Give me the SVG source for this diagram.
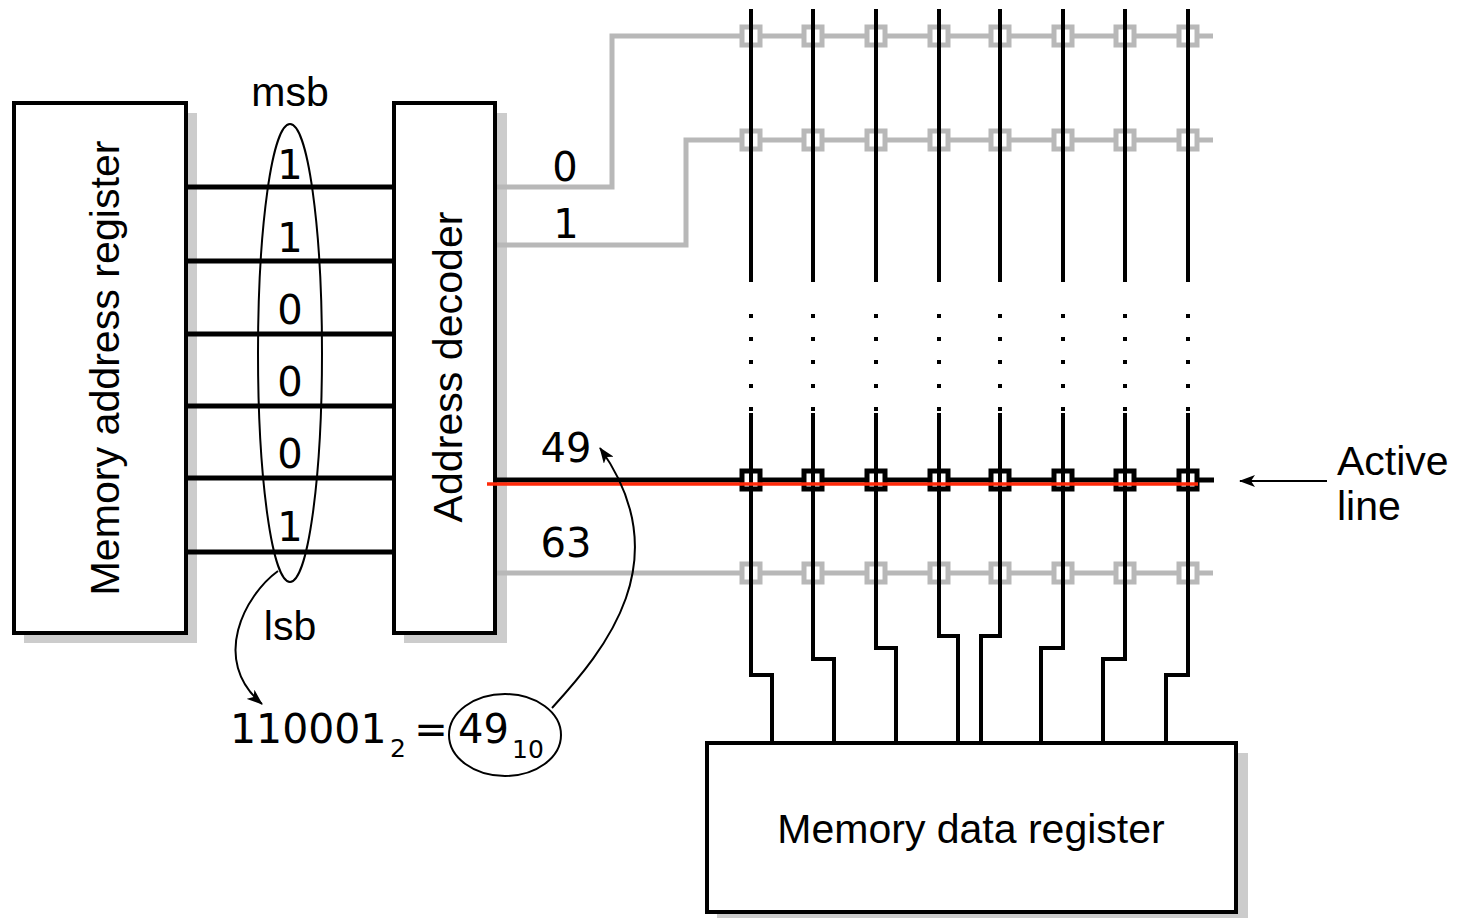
<svg xmlns="http://www.w3.org/2000/svg" width="1460" height="918" viewBox="0 0 1460 918">
<style>
.box{fill:#fff;stroke:#000;stroke-width:4}
.shadow{fill:#cccccc}
.word{font-family:"Liberation Sans",Arial,sans-serif;font-size:41px;fill:#000}
.dig{font-family:"DejaVu Sans","Liberation Sans",sans-serif;font-size:40px;fill:#000}
.sub{font-family:"DejaVu Sans","Liberation Sans",sans-serif;font-size:25px;fill:#000}
.bit{stroke:#000;stroke-width:5;fill:none}
.grey{stroke:#b8b8b8;stroke-width:5;fill:none}
.gsq{fill:#fff;stroke:#b8b8b8;stroke-width:5}
.bsq{fill:#fff;stroke:#000;stroke-width:5}
.col{stroke:#000;stroke-width:4;fill:none}
.thin{stroke:#000;stroke-width:2;fill:none}
.dot{fill:#000}
</style>
<defs>
<marker id="ah" viewBox="0 0 16 12" refX="15" refY="6" markerWidth="16" markerHeight="12" markerUnits="userSpaceOnUse" orient="auto">
<path d="M0,0 L16,6 L0,12 L4,6 z" fill="#000"/>
</marker>
</defs>

<g id="mar">
<rect class="shadow" x="24" y="113" width="173" height="530"/>
<rect class="box" x="14" y="103" width="172" height="530"/>
<text class="word" transform="translate(119,368) rotate(-90)" text-anchor="middle" textLength="455" lengthAdjust="spacingAndGlyphs">Memory address register</text>
</g>

<g id="decoder">
<rect class="shadow" x="404" y="113" width="103" height="530"/>
<rect class="box" x="394" y="103" width="101" height="530"/>
<text class="word" transform="translate(462,367) rotate(-90)" text-anchor="middle" textLength="311" lengthAdjust="spacingAndGlyphs">Address decoder</text>
</g>

<g id="mdr">
<rect class="shadow" x="717" y="753" width="531" height="170"/>
<rect class="box" x="707" y="743" width="529" height="169"/>
<text class="word" x="971" y="843" text-anchor="middle">Memory data register</text>
</g>

<g id="connectors">
<g id="bitlines">
<path class="bit" d="M188,187 H392 M188,261 H392 M188,334 H392 M188,406 H392 M188,478 H392 M188,552 H392"/>
</g>
<g id="wordlines">
<path class="grey" d="M497,187 H612 V36 H1213"/>
<path class="grey" d="M497,245 H686 V140 H1213"/>
<path class="grey" d="M497,573 H1213"/>
<path class="bit" d="M497,480 H1214"/>
</g>
<g id="cells">
<g class="gsq">
<rect x="742" y="27" width="18" height="18"/><rect x="804" y="27" width="18" height="18"/><rect x="867" y="27" width="18" height="18"/><rect x="930" y="27" width="18" height="18"/><rect x="991" y="27" width="18" height="18"/><rect x="1054" y="27" width="18" height="18"/><rect x="1116" y="27" width="18" height="18"/><rect x="1179" y="27" width="18" height="18"/>
<rect x="742" y="131" width="18" height="18"/><rect x="804" y="131" width="18" height="18"/><rect x="867" y="131" width="18" height="18"/><rect x="930" y="131" width="18" height="18"/><rect x="991" y="131" width="18" height="18"/><rect x="1054" y="131" width="18" height="18"/><rect x="1116" y="131" width="18" height="18"/><rect x="1179" y="131" width="18" height="18"/>
<rect x="742" y="564" width="18" height="18"/><rect x="804" y="564" width="18" height="18"/><rect x="867" y="564" width="18" height="18"/><rect x="930" y="564" width="18" height="18"/><rect x="991" y="564" width="18" height="18"/><rect x="1054" y="564" width="18" height="18"/><rect x="1116" y="564" width="18" height="18"/><rect x="1179" y="564" width="18" height="18"/>
</g>
<g class="bsq">
<rect x="742" y="471" width="18" height="18"/><rect x="804" y="471" width="18" height="18"/><rect x="867" y="471" width="18" height="18"/><rect x="930" y="471" width="18" height="18"/><rect x="991" y="471" width="18" height="18"/><rect x="1054" y="471" width="18" height="18"/><rect x="1116" y="471" width="18" height="18"/><rect x="1179" y="471" width="18" height="18"/>
</g>
</g>
<g id="columns">
<path class="col" d="M751,9 V282 M813,9 V282 M876,9 V282 M939,9 V282 M1000,9 V282 M1063,9 V282 M1125,9 V282 M1188,9 V282"/>
<path class="col" d="M751,413 V675 H772 V742"/>
<path class="col" d="M813,413 V659 H834 V742"/>
<path class="col" d="M876,413 V648 H896 V742"/>
<path class="col" d="M939,413 V636 H958 V742"/>
<path class="col" d="M1000,413 V636 H981 V742"/>
<path class="col" d="M1063,413 V648 H1041 V742"/>
<path class="col" d="M1125,413 V659 H1103 V742"/>
<path class="col" d="M1188,413 V675 H1166 V742"/>
</g>
<g id="dots" class="dot">
<rect x="749" y="314" width="4" height="4"/><rect x="749" y="337" width="4" height="4"/><rect x="749" y="360" width="4" height="4"/><rect x="749" y="384" width="4" height="4"/><rect x="749" y="407" width="4" height="4"/>
<rect x="811" y="314" width="4" height="4"/><rect x="811" y="337" width="4" height="4"/><rect x="811" y="360" width="4" height="4"/><rect x="811" y="384" width="4" height="4"/><rect x="811" y="407" width="4" height="4"/>
<rect x="874" y="314" width="4" height="4"/><rect x="874" y="337" width="4" height="4"/><rect x="874" y="360" width="4" height="4"/><rect x="874" y="384" width="4" height="4"/><rect x="874" y="407" width="4" height="4"/>
<rect x="937" y="314" width="4" height="4"/><rect x="937" y="337" width="4" height="4"/><rect x="937" y="360" width="4" height="4"/><rect x="937" y="384" width="4" height="4"/><rect x="937" y="407" width="4" height="4"/>
<rect x="998" y="314" width="4" height="4"/><rect x="998" y="337" width="4" height="4"/><rect x="998" y="360" width="4" height="4"/><rect x="998" y="384" width="4" height="4"/><rect x="998" y="407" width="4" height="4"/>
<rect x="1061" y="314" width="4" height="4"/><rect x="1061" y="337" width="4" height="4"/><rect x="1061" y="360" width="4" height="4"/><rect x="1061" y="384" width="4" height="4"/><rect x="1061" y="407" width="4" height="4"/>
<rect x="1123" y="314" width="4" height="4"/><rect x="1123" y="337" width="4" height="4"/><rect x="1123" y="360" width="4" height="4"/><rect x="1123" y="384" width="4" height="4"/><rect x="1123" y="407" width="4" height="4"/>
<rect x="1186" y="314" width="4" height="4"/><rect x="1186" y="337" width="4" height="4"/><rect x="1186" y="360" width="4" height="4"/><rect x="1186" y="384" width="4" height="4"/><rect x="1186" y="407" width="4" height="4"/>
</g>
<path id="active-red" d="M487,484 H1198" stroke="#ff2a0a" stroke-width="3.5" fill="none"/>
<path id="active-arrow" class="thin" d="M1327,481 H1240" marker-end="url(#ah)"/>
<path id="lsb-arrow" class="thin" d="M278,571 C245,595 210,660 262,704" marker-end="url(#ah)"/>
<path id="val-arrow" class="thin" d="M552,708 C605,650 680,560 600,448" marker-end="url(#ah)"/>
</g>

<g id="bits">
<ellipse cx="290" cy="353" rx="32" ry="229" fill="none" stroke="#000" stroke-width="2"/>
<text class="dig" x="290" y="179" text-anchor="middle">1</text>
<text class="dig" x="290" y="252" text-anchor="middle">1</text>
<text class="dig" x="290" y="324" text-anchor="middle">0</text>
<text class="dig" x="290" y="396" text-anchor="middle">0</text>
<text class="dig" x="290" y="468" text-anchor="middle">0</text>
<text class="dig" x="290" y="541" text-anchor="middle">1</text>
<text class="word" x="290" y="106" text-anchor="middle">msb</text>
<text class="word" x="290" y="640" text-anchor="middle">lsb</text>
</g>

<g id="row-labels">
<text class="dig" x="565" y="181" text-anchor="middle">0</text>
<text class="dig" x="566" y="238" text-anchor="middle">1</text>
<text class="dig" x="566" y="462" text-anchor="middle">49</text>
<text class="dig" x="566" y="557" text-anchor="middle">63</text>
</g>

<g id="active-label">
<text class="word" x="1337" y="475">Active</text>
<text class="word" x="1337" y="520">line</text>
</g>

<g id="formula">
<text class="dig" x="230" y="743" style="font-size:41px">110001</text>
<text class="sub" x="390" y="757">2</text>
<text class="dig" x="431" y="743" text-anchor="middle">=</text>
<ellipse cx="505" cy="735" rx="56" ry="41" fill="none" stroke="#000" stroke-width="2"/>
<text class="dig" x="458" y="743">49</text>
<text class="sub" x="512" y="758">10</text>
</g>
</svg>
